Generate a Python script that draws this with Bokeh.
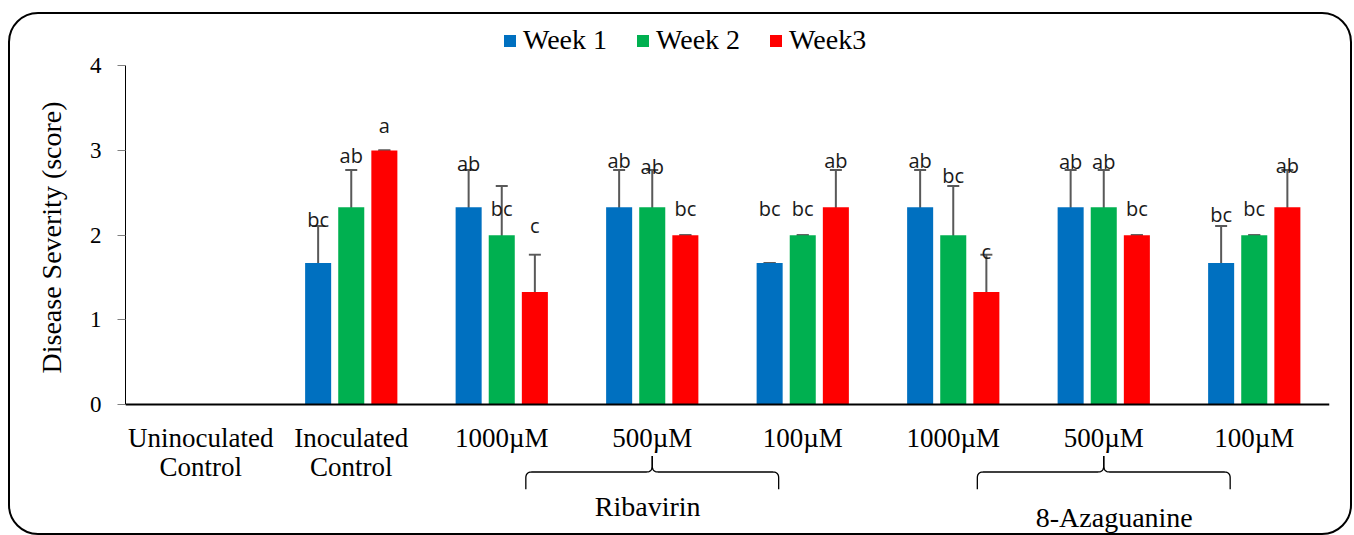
import numpy as np
from bokeh.plotting import figure
from bokeh.models import (ColumnDataSource, Whisker, TeeHead, Legend, LegendItem, Span,
                          FixedTicker, Title)
from bokeh.core.properties import value
from bokeh.embed import file_html
from bokeh.resources import INLINE

# ---------------- data ----------------
categories = ["Uninoculated\nControl", "Inoculated\nControl", "1000µM", "500µM", "100µM",
              "1000µM", "500µM", "100µM"]
series = ["Week 1", "Week 2", "Week3"]
week1 = [0, 1.67, 2.33, 2.33, 1.67, 2.33, 2.33, 1.67]
week2 = [0, 2.33, 2.00, 2.33, 2.00, 2.00, 2.33, 2.00]
week3 = [0, 3.00, 1.33, 2.00, 2.33, 1.33, 2.00, 2.33]
err1 = [0, 0.44, 0.44, 0.44, 0.00, 0.44, 0.44, 0.44]
err2 = [0, 0.44, 0.58, 0.44, 0.00, 0.58, 0.44, 0.00]
err3 = [0, 0.00, 0.44, 0.00, 0.44, 0.44, 0.00, 0.44]
letters1 = ["", "bc", "ab", "ab", "bc", "ab", "ab", "bc"]
letters2 = ["", "ab", "bc", "ab", "bc", "bc", "ab", "bc"]
letters3 = ["", "a", "c", "bc", "ab", "c", "bc", "ab"]
letter_y1 = [0, 2.19, 2.85, 2.88, 2.32, 2.88, 2.87, 2.25]
letter_y2 = [0, 2.94, 2.32, 2.81, 2.32, 2.71, 2.87, 2.32]
letter_y3 = [0, 3.30, 2.11, 2.32, 2.88, 1.81, 2.32, 2.82]
groups = ["Ribavirin", "8-Azaguanine"]
group_members = [[2, 3, 4], [5, 6, 7]]
y_ticks = [0, 1, 2, 3, 4]
y_title = "Disease Severity (score)"

colors = ["#0070C0", "#00B050", "#FF0000"]
values_all = [week1, week2, week3]
errs_all = [err1, err2, err3]
letters_all = [letters1, letters2, letters3]
letter_y_all = [letter_y1, letter_y2, letter_y3]

# ---------------- layout ----------------
PX = 84.0                   # pixels per y unit
HOST_W, HOST_H = 1344, 523  # including 2px CSS border (border-box)
BORDER = 2
TOP_PX, ZERO_PX = 12 + BORDER, 401
canvas_h = HOST_H - 2 * BORDER
y_top = (ZERO_PX - TOP_PX) / PX
y_bot = (ZERO_PX - (TOP_PX + canvas_h)) / PX

n = len(categories)
p = figure(width=HOST_W, height=HOST_H, x_range=(0, n), y_range=(y_bot, y_top),
           output_backend="svg", toolbar_location=None, x_axis_location=None,
           title=None, min_border_left=115, min_border_right=25,
           min_border_top=0, min_border_bottom=0)
p.styles = {"border": "2px solid black", "border-radius": "30px",
            "margin-left": "8px", "margin-top": "12px"}
p.border_fill_color = None
p.background_fill_color = None
p.outline_line_color = None
p.grid.grid_line_color = None

serif = "Liberation Serif"
sans = "Open Sans"

ax = p.yaxis[0]
ax.bounds = (0, 4)
ax.ticker = FixedTicker(ticks=y_ticks)
ax.minor_tick_line_color = None
ax.major_tick_in = 0
ax.major_tick_out = 8
ax.major_tick_line_color = "#7f7f7f"
ax.axis_line_color = "black"
ax.major_label_text_font = serif
ax.major_label_text_font_size = "23px"
ax.major_label_text_color = "black"
ax.major_label_standoff = 16

# y-axis title as a side title, placed to centre on the 0..4 span
p.add_layout(Title(text=y_title, align="left", offset=164, standoff=40, text_font=serif,
                   text_font_size="28px", text_font_style="normal", text_color="black"), "left")

# x axis line
p.add_layout(Span(location=0, dimension="width", line_color="black", line_width=2))

offsets = [-0.22, 0.0, 0.22]
bar_w = 0.173
centers = np.arange(n) + 0.5
legend_items = []
for k in range(3):
    vals = np.array(values_all[k], dtype=float)
    errs = np.array(errs_all[k], dtype=float)
    xs = centers + offsets[k]
    src = ColumnDataSource(dict(x=xs, top=vals))
    r = p.vbar(x="x", top="top", width=bar_w, source=src, fill_color=colors[k], line_color=None)
    legend_items.append(LegendItem(label=series[k], renderers=[r]))
    mask = vals > 0
    wsrc = ColumnDataSource(dict(x=xs[mask], lower=(vals - errs)[mask], upper=(vals + errs)[mask]))
    wk = Whisker(source=wsrc, base="x", lower="lower", upper="upper", dimension="height",
                 line_color="#595959", line_width=2,
                 upper_head=TeeHead(size=12, line_color="#595959", line_width=2),
                 lower_head=TeeHead(size=12, line_color="#595959", line_width=2))
    p.add_layout(wk)
    lsrc = ColumnDataSource(dict(x=xs[mask], y=np.array(letter_y_all[k])[mask],
                                 t=[letters_all[k][i] for i in range(n) if mask[i]]))
    p.text(x="x", y="y", text="t", source=lsrc, text_align="center", text_baseline="middle",
           text_font=value(sans), text_font_size="20px", text_color="#1a1a1a")

# category labels (one or two lines)
line1 = [c.split("\n")[0] for c in categories]
line2 = [c.split("\n")[1] if "\n" in c else "" for c in categories]
p.text(x=centers, y=np.full(n, -33 / PX), text=line1, text_align="center", text_baseline="middle",
       text_font=value(serif), text_font_size="27px", text_color="black")
p.text(x=centers, y=np.full(n, -62 / PX), text=line2, text_align="center", text_baseline="middle",
       text_font=value(serif), text_font_size="27px", text_color="black")

# curly brackets + group names
def brace(xl, xr, y_tip, y_bar, y_end, rx=0.04, ry=0.07, m=12):
    c = (xl + xr) / 2
    t = np.linspace(0, 1, m)
    def quad(p0, p1, p2):
        return [(1 - t) ** 2 * p0[0] + 2 * (1 - t) * t * p1[0] + t ** 2 * p2[0],
                (1 - t) ** 2 * p0[1] + 2 * (1 - t) * t * p1[1] + t ** 2 * p2[1]]
    def half(sign, xe):
        pts_x, pts_y = [xe], [y_end]
        qx, qy = quad((xe, y_bar - ry), (xe, y_bar), (xe + sign * rx, y_bar))
        pts_x += list(qx); pts_y += list(qy)
        qx, qy = quad((c - sign * rx, y_bar), (c, y_bar), (c, y_bar + ry))
        pts_x += list(qx); pts_y += list(qy)
        pts_x.append(c); pts_y.append(y_tip)
        return pts_x, pts_y
    return half(1, xl), half(-1, xr)

group_label_y = [-101 / PX, -112 / PX]
for g, members in enumerate(group_members):
    mc = float(np.mean(centers[members]))
    (lx, ly), (rx_, ry_) = brace(mc - 0.84, mc + 0.84, -51 / PX, -67 / PX, -84 / PX)
    p.multi_line(xs=[lx, rx_], ys=[ly, ry_], line_color="black", line_width=1.3)
    p.text(x=[mc - 0.03 + 0.1 * g], y=[group_label_y[g]], text=[groups[g]], text_align="center",
           text_baseline="middle", text_font=value(serif), text_font_size="28px",
           text_color="black")

legend = Legend(items=legend_items, orientation="horizontal", location=(377, 481),
                glyph_width=15, glyph_height=15, label_standoff=6, spacing=28,
                padding=0, margin=0, border_line_color=None, background_fill_color=None,
                label_text_font=serif, label_text_font_size="28px", label_text_color="black")
p.add_layout(legend)

open("out.html", "w").write(file_html(p, INLINE))
